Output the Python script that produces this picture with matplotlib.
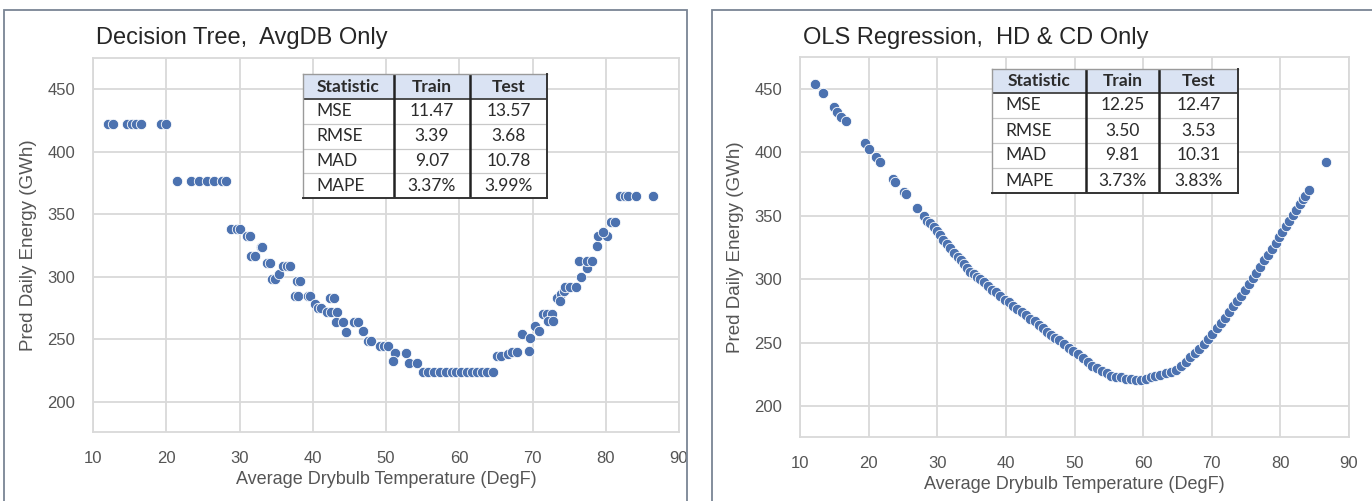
import matplotlib.pyplot as plt
from matplotlib.patches import Rectangle

plt.rcParams['font.family'] = ['Liberation Sans', 'DejaVu Sans']

# decision tree predictions
dt_temp = [12.0, 12.7, 14.6, 15.3, 15.9, 16.6, 19.3, 19.9,
           21.4, 23.4, 24.5, 25.5, 26.5, 27.6, 28.2,
           28.8, 29.6, 30.0, 31.0, 31.5, 32.9, 33.1, 31.6, 32.1,
           33.8, 34.2, 34.5, 34.9, 35.4, 36.0, 36.5, 36.9,
           37.8, 38.3, 37.6, 38.0, 39.3, 39.6, 40.3, 40.7, 41.1,
           41.9, 42.5, 43.3, 42.4, 42.9, 43.2, 44.1, 45.6, 46.2,
           44.5, 46.9, 47.6, 48.0, 49.2, 49.7, 50.3, 51.2, 52.7, 51.0,
           53.2, 54.2,
           55.0, 55.8, 56.6, 57.4, 58.2, 59.0, 59.6, 60.3, 61.0, 61.8,
           62.4, 63.1, 63.8, 64.6,
           65.2, 65.7, 66.6, 67.2, 67.9, 69.5, 68.6, 69.7, 70.4, 70.9,
           71.5, 72.0, 72.6, 72.1, 72.8, 73.4, 73.9, 74.3, 73.8,
           74.5, 75.1, 75.9, 76.6, 77.4, 76.3, 77.5, 78.1, 78.8,
           79.0, 80.2, 79.6, 80.7, 81.3,
           82.0, 82.6, 83.1, 84.1, 86.5]
dt_pred = [422, 422, 422, 422, 422, 422, 422, 422,
           377, 377, 377, 377, 377, 377, 377,
           338, 338, 338, 333, 333, 324, 324, 317, 317,
           311, 311, 298, 298, 302, 309, 309, 309,
           297, 297, 285, 285, 285, 285, 278, 275, 275,
           272, 272, 272, 283, 283, 264, 264, 264, 264,
           256, 257, 249, 249, 245, 245, 245, 239, 239, 233,
           231, 231,
           224, 224, 224, 224, 224, 224, 224, 224, 224, 224,
           224, 224, 224, 224,
           237, 237, 238, 240, 240, 241, 254, 251, 261, 257,
           270, 270, 270, 265, 265, 283, 286, 289, 281,
           292, 292, 292, 300, 307, 313, 313, 313, 325,
           333, 333, 336, 344, 344,
           365, 365, 365, 365, 365]

# OLS predictions
ols_temp = [12.2, 13.3, 14.9, 15.4, 16.0, 16.7, 19.4, 20.1, 21.1, 21.6,
            23.6, 23.9, 25.1, 25.4, 27.1, 28.0, 28.5, 29.0, 29.5, 29.9,
            30.4, 30.9, 31.4, 31.9, 32.5, 33.0, 33.4, 33.9, 34.3, 34.8,
            35.3, 35.8, 36.3, 36.8, 37.4, 38.0, 38.6, 39.2, 39.8, 40.4,
            41.0, 41.6, 42.3, 42.9, 43.5, 44.2, 44.8, 45.4, 46.0, 46.6,
            47.2, 47.8, 48.5, 49.2, 49.8, 50.5, 51.2, 51.9, 52.6, 53.3,
            54.0, 54.7, 55.3, 56.0, 56.8, 57.5, 58.3, 59.0, 59.7, 60.4,
            61.1, 61.8, 62.5, 63.3, 64.0, 64.8, 65.5, 66.2, 66.8, 67.5,
            68.2, 68.8, 69.5, 70.1, 70.7, 71.3, 71.9, 72.5, 73.1, 73.7,
            74.3, 74.9, 75.4, 76.0, 76.5, 77.1, 77.6, 78.2, 78.8, 79.3,
            79.8, 80.3, 80.8, 81.3, 81.8, 82.3, 82.8, 83.3, 83.6, 84.1,
            86.6]
ols_pred = [454, 447, 436, 432, 428, 425, 407, 403, 396, 392,
            379, 377, 369, 367, 356, 350, 346, 344, 341, 338,
            335, 331, 328, 325, 321, 318, 315, 312, 309, 306,
            304, 302, 300, 298, 295, 292, 290, 287, 284, 282,
            279, 277, 274, 272, 269, 267, 264, 262, 259, 256,
            254, 252, 249, 246, 244, 241, 238, 235, 232, 230,
            228, 226, 224, 223, 223, 222, 222, 221, 221, 222,
            223, 224, 225, 226, 227, 229, 232, 235, 239, 242,
            245, 249, 253, 257, 262, 266, 270, 274, 279, 283,
            287, 292, 296, 301, 305, 310, 315, 319, 324, 329,
            333, 337, 342, 346, 351, 355, 359, 363, 366, 370,
            392]

stat_names = ["MSE", "RMSE", "MAD", "MAPE"]
table_header = ["Statistic", "Train", "Test"]
dt_train = ["11.47", "3.39", "9.07", "3.37%"]
dt_test = ["13.57", "3.68", "10.78", "3.99%"]
ols_train = ["12.25", "3.50", "9.81", "3.73%"]
ols_test = ["12.47", "3.53", "10.31", "3.83%"]

W, H = 1372, 501
fig = plt.figure(figsize=(W / 100, H / 100), dpi=100)


def px_axes(x0, y0, x1, y1):
    # axes from pixel box (top-left origin)
    return fig.add_axes([x0 / W, 1 - y1 / H, (x1 - x0) / W, (y1 - y0) / H])


def draw_panel(box, axbox, title, xs, ys):
    fx0, fy0, fx1, fy1 = box
    fig.patches.append(Rectangle((fx0 / W, 1 - fy1 / H), (fx1 - fx0) / W, (fy1 - fy0) / H,
                                 transform=fig.transFigure, fill=False,
                                 edgecolor="#7a8594", lw=1.3))
    ax = px_axes(*axbox)
    ax.scatter(xs, ys, s=56, color="#4c72b0", edgecolor="white", linewidth=0.6, zorder=3)
    ax.set_xlim(10, 90)
    ax.set_ylim(176, 475)
    ax.set_xticks(range(10, 91, 10))
    ax.set_yticks(range(200, 451, 50))
    ax.grid(True, color="#d9d9d9", lw=1.3)
    ax.set_axisbelow(True)
    for sp in ax.spines.values():
        sp.set_color("#d9d9d9")
        sp.set_linewidth(1.3)
    ax.tick_params(length=0, labelsize=12, labelcolor="#555555")
    ax.tick_params(axis="y", pad=13)
    ax.tick_params(axis="x", pad=14)
    ax.set_xlabel("Average Drybulb Temperature (DegF)", fontsize=13, color="#555555", labelpad=3)
    ax.set_ylabel("Pred Daily Energy (GWh)", fontsize=13.5, color="#555555", labelpad=7)
    fig.text(axbox[0] / W + 0.002, 1 - 38 / H, title, fontsize=17, color="#262626",
             va="center", ha="left")
    return ax


def draw_table(x0, y0, x1, y1, c1, c2, hb, train, test):
    tx = px_axes(x0, y0, x1, y1)
    tx.set_xlim(x0, x1)
    tx.set_ylim(y1, y0)
    tx.axis("off")
    tx.add_patch(Rectangle((x0, y0), x1 - x0, hb - y0, color="#dae3f3", zorder=0))
    tx.add_patch(Rectangle((x0, hb), x1 - x0, y1 - hb, color="white", zorder=0))
    rh = (y1 - hb) / 4
    for i in range(1, 4):
        tx.plot([x0, x1], [hb + i * rh] * 2, color="#c8c8c8", lw=0.9)
    tx.plot([x0, x1], [hb, hb], color="#404040", lw=1.3)
    for c in (c1, c2):
        tx.plot([c, c], [y0, y1], color="#222222", lw=1.8)
    tx.plot([x0, x0], [y0, y1], color="#9a9a9a", lw=1.0, clip_on=False)
    tx.plot([x0, x1], [y0, y0], color="#9a9a9a", lw=1.0, clip_on=False)
    tx.plot([x1, x1], [y0, y1], color="#333333", lw=1.4, clip_on=False)
    tx.plot([x0, x1], [y1, y1], color="#333333", lw=1.4, clip_on=False)
    kw = dict(family=["Lato", "DejaVu Sans"], fontsize=12.5, color="#2b2b2b", va="center")
    hy = (y0 + hb) / 2
    tx.text((x0 + c1) / 2, hy, table_header[0], ha="center", weight="bold", **kw)
    tx.text((c1 + c2) / 2, hy, table_header[1], ha="center", weight="bold", **kw)
    tx.text((c2 + x1) / 2, hy, table_header[2], ha="center", weight="bold", **kw)
    for i, name in enumerate(stat_names):
        ry = hb + (i + 0.5) * rh
        tx.text(x0 + 13, ry, name, ha="left", **kw)
        tx.text((c1 + c2) / 2, ry, train[i], ha="center", **kw)
        tx.text((c2 + x1) / 2, ry, test[i], ha="center", **kw)


draw_panel((4, 10, 687, 510), (93, 58, 679, 432), "Decision Tree,  AvgDB Only", dt_temp, dt_pred)
draw_panel((712, 10, 1380, 510), (800, 57, 1349, 437), "OLS Regression,  HD & CD Only", ols_temp, ols_pred)

draw_table(303, 74, 547, 198, 394, 470, 99, dt_train, dt_test)
draw_table(992, 69, 1238, 193, 1086, 1159, 93, ols_train, ols_test)

plt.savefig("out.png", dpi=100)
